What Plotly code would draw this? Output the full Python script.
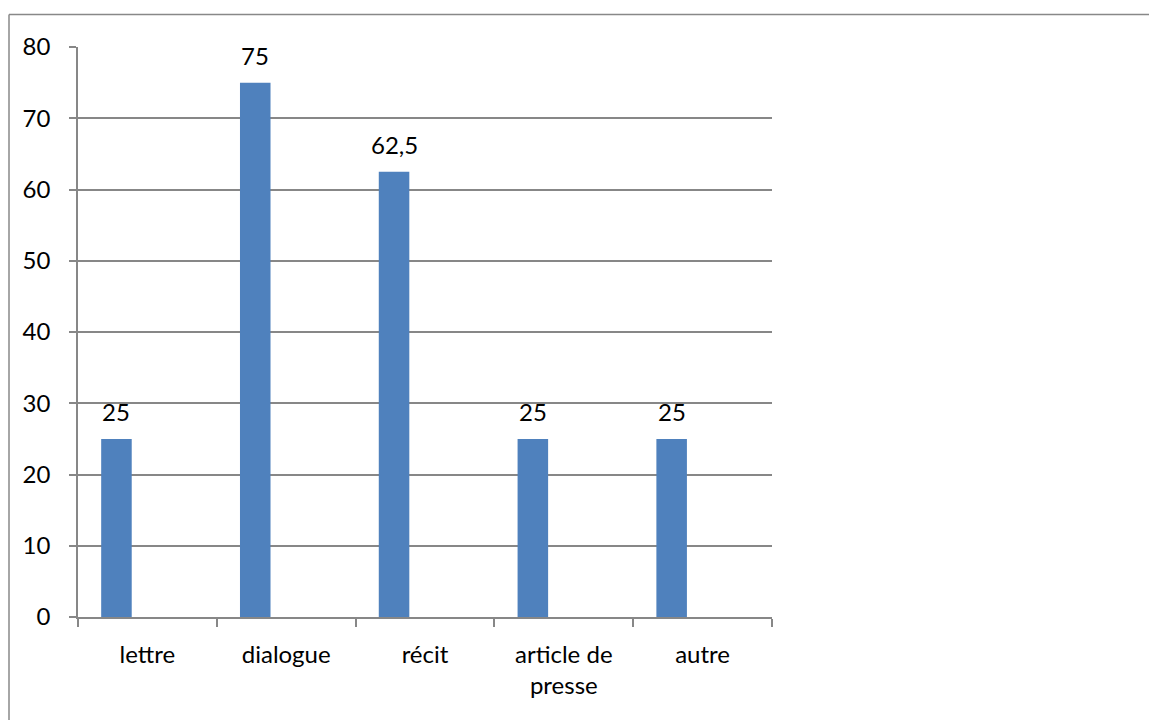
import plotly.graph_objects as go

categories = ["lettre", "dialogue", "récit", "article de<br>presse", "autre"]
values = [25, 75, 62.5, 25, 25]
labels = [f"{v:g}".replace(".", ",") for v in values]
y_ticks = [0, 10, 20, 30, 40, 50, 60, 70, 80]

FONT = "Lato, Carlito, Calibri, sans-serif"
FS = 24
GRID = "#878787"
BAR_OFFSET = -0.333
BAR_WIDTH = 0.22
CAT_PX = 694 / 5

fig = go.Figure()
fig.add_trace(go.Bar(
    x=categories, y=values,
    marker=dict(color="#4F81BD", line=dict(width=0)),
    offset=BAR_OFFSET, width=BAR_WIDTH,
))

for c, v, t in zip(categories, values, labels):
    fig.add_annotation(
        x=c, y=v, text=t, showarrow=False, xanchor="center", yanchor="bottom",
        xshift=(BAR_OFFSET + BAR_WIDTH / 2) * CAT_PX, yshift=11,
        font=dict(family=FONT, size=FS, color="black"),
    )

fig.update_layout(
    width=1149, height=720,
    margin=dict(l=78, r=377, t=47, b=103),
    paper_bgcolor="white", plot_bgcolor="white",
    showlegend=False,
    font=dict(family=FONT, size=FS, color="black"),
    xaxis=dict(
        type="category", tickson="boundaries", ticks="outside", ticklen=8,
        tickcolor=GRID, tickwidth=1.5, showline=True, linecolor=GRID, linewidth=1.5,
        showgrid=False, tickfont=dict(family=FONT, size=FS),
        zeroline=False, ticklabelstandoff=15,
    ),
    yaxis=dict(
        range=[0, 80], tickvals=y_ticks, ticks="outside", ticklen=7,
        tickcolor=GRID, tickwidth=1.5, showline=True, linecolor=GRID, linewidth=1.5,
        showgrid=True, gridcolor=GRID, gridwidth=1.5, zeroline=False,
        tickfont=dict(family=FONT, size=FS), ticklabelstandoff=14,
    ),
    shapes=[
        dict(type="line", xref="paper", yref="paper",
             x0=(9 - 78) / 694, x1=(1160 - 78) / 694,
             y0=(617 - 14.5) / 570, y1=(617 - 14.5) / 570,
             line=dict(color="#888888", width=1.5)),
        dict(type="line", xref="paper", yref="paper",
             x0=(9 - 78) / 694, x1=(9 - 78) / 694,
             y0=(617 - 14.5) / 570, y1=(617 - 740) / 570,
             line=dict(color="#888888", width=1.5)),
    ],
)

fig.write_html("out.html")
